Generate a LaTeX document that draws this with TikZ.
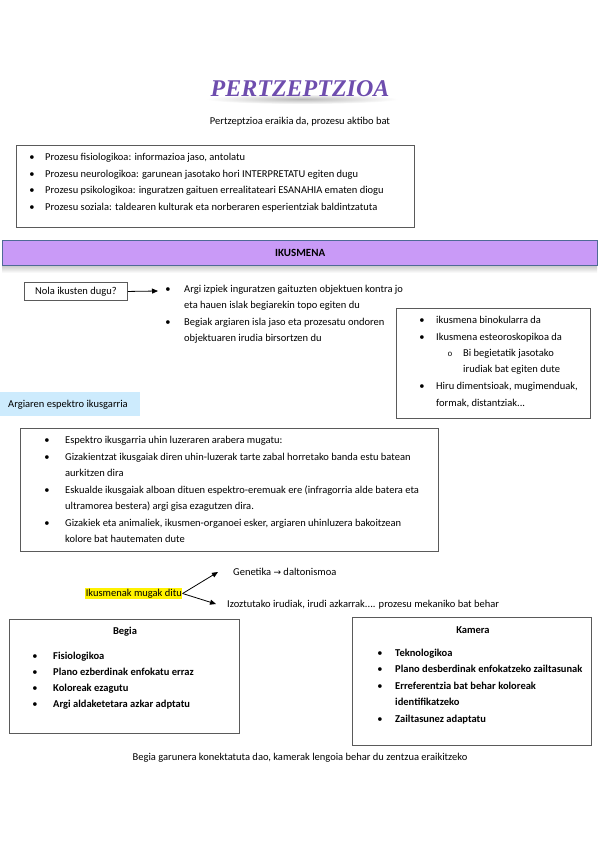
\documentclass[tikz,border=0pt]{standalone}
\usepackage{fontspec}
\setmainfont{Carlito}
\newfontfamily\titlefont{Liberation Serif}
\newfontfamily\symfont{DejaVu Sans}
\newfontfamily\monofont{Liberation Mono}
\usetikzlibrary{arrows.meta}
\definecolor{barfill}{HTML}{C99AF7}
\definecolor{barline}{HTML}{4F6A96}
\definecolor{lblue}{HTML}{CDEBFD}
\definecolor{boxline}{HTML}{5A5A5A}
\definecolor{titlep}{HTML}{6E4DAE}
\newcommand\fs{\fontsize{10.5}{12}\selectfont}
\newcommand\bitem[5]{\node[bul] (#4-b) at (#1,#3) {\textbullet}; \node[txt] (#4) at (#2,#3) {#5};}
\newcommand\titfont{\titlefont\fontsize{24}{24}\selectfont\bfseries\itshape}
\begin{document}
\begin{tikzpicture}[x=1pt,y=-1pt,
  txt/.style={anchor=base west, inner sep=0pt, font=\fs},
  bul/.style={anchor=base, inner sep=0pt, font=\fs},
  box/.style={draw=boxline, line width=0.9pt, anchor=north west, inner sep=0pt},
  arr/.style={-{Triangle[length=6pt,width=5pt]}, line width=0.8pt}
]
\useasboundingbox (0,0) rectangle (599,848);
\fill[white] (0,0) rectangle (599,848);

% title with soft shadow band
\shade[inner color=gray!55, outer color=white] (302,99) ellipse [x radius=96, y radius=5];
\node[font=\titfont, text=titlep, inner sep=0pt] (title) at (300,89) {PERTZEPTZIOA};
\node[anchor=base, inner sep=0pt, font=\fs] (sub) at (300,124.5) {Pertzeptzioa eraikia da, prozesu aktibo bat};

% box 1
\node[box, minimum width=398, minimum height=82] (b1) at (16,145) {};
\bitem{32}{45}{160.5}{p1}{Prozesu fisiologikoa: informazioa jaso, antolatu}
\bitem{32}{45}{177.5}{p2}{Prozesu neurologikoa: garunean jasotako hori INTERPRETATU egiten dugu}
\bitem{32}{45}{193.5}{p3}{Prozesu psikologikoa: inguratzen gaituen errealitateari ESANAHIA ematen diogu}
\bitem{32}{45}{210.5}{p4}{Prozesu soziala: taldearen kulturak eta norberaren esperientziak baldintzatuta}

% IKUSMENA bar
\shade[top color=gray!45, bottom color=white] (2,265) rectangle (597,273);
\node[draw=barline, fill=barfill, line width=1.2pt, minimum width=595, minimum height=25, anchor=north west, inner sep=0pt, font=\fontsize{11}{12}\selectfont\bfseries] (ikus) at (2,240) {IKUSMENA};

% Nola ikusten dugu
\node[box, minimum width=103, minimum height=18, font=\fs] (nola) at (24,282) {Nola ikusten dugu?};
\coordinate (nolaend) at (158,291);
\draw[arr] (nola.east) -- (nolaend);
\bitem{168}{184}{292.5}{m1}{Argi izpiek inguratzen gaituzten objektuen kontra jo}
\node[txt] (m1b) at (184,308.5) {eta hauen islak begiarekin topo egiten du};
\bitem{168}{184}{325.5}{m2}{Begiak argiaren isla jaso eta prozesatu ondoren}
\node[txt] (m2b) at (184,341.5) {objektuaren irudia birsortzen du};

% right box
\node[box, minimum width=194, minimum height=110] (rbox) at (396,308) {};
\bitem{422}{436}{323.5}{r1}{ikusmena binokularra da}
\bitem{422}{436}{340.5}{r2}{Ikusmena esteoroskopikoa da}
\node[bul, font=\monofont\fontsize{8}{8}\selectfont] (r3-b) at (450,356) {o};
\node[txt] (r3) at (463,356.5) {Bi begietatik jasotako};
\node[txt] (r3b) at (463,372.5) {irudiak bat egiten dute};
\bitem{422}{436}{389.5}{r4}{Hiru dimentsioak, mugimenduak,}
\node[txt] (r4b) at (436,406.5) {formak, distantziak...};

% Argiaren espektro ikusgarria
\node[fill=lblue, minimum width=140, minimum height=24, anchor=north west, inner sep=0pt] (argbox) at (0,392) {};
\node[txt] (arg) at (8,407.5) {Argiaren espektro ikusgarria};

% box 3
\node[box, minimum width=418, minimum height=123] (b3) at (20,428) {};
\bitem{47}{65}{443.5}{e1}{Espektro ikusgarria uhin luzeraren arabera mugatu:}
\bitem{47}{65}{460.5}{e2}{Gizakientzat ikusgaiak diren uhin-luzerak tarte zabal horretako banda estu batean}
\node[txt] (e2b) at (65,476.5) {aurkitzen dira};
\bitem{47}{65}{493.5}{e3}{Eskualde ikusgaiak alboan dituen espektro-eremuak ere (infragorria alde batera eta}
\node[txt] (e3b) at (65,509.5) {ultramorea bestera) argi gisa ezagutzen dira.};
\bitem{47}{65}{526.5}{e4}{Gizakiek eta animaliek, ikusmen-organoei esker, argiaren uhinluzera bakoitzean}
\node[txt] (e4b) at (65,542.5) {kolore bat hautematen dute};

% limits
\node[fill=yellow, inner sep=0.6pt, anchor=west, font=\fs] (muga) at (85,593.5) {Ikusmenak mugak ditu};
\node[txt] (gen) at (233,575.5) {Genetika {\symfont\fontsize{9}{9}\selectfont →} daltonismoa};
\node[txt] (izo) at (227,607.5) {Izoztutako irudiak, irudi azkarrak.... prozesu mekaniko bat behar};
\coordinate (g1) at (218,572);
\coordinate (g2) at (216,604);
\draw[arr] (muga.east) -- (g1);
\draw[arr] (muga.east) -- (g2);

% Begia box
\node[box, minimum width=230, minimum height=114] (begia) at (9,619) {};
\node[anchor=base, inner sep=0pt, font=\fs\bfseries] (begiat) at (125,634.5) {Begia};
\bitem{35}{53}{659.5}{ba}{\bfseries Fisiologikoa}
\bitem{35}{53}{675.5}{bb}{\bfseries Plano ezberdinak enfokatu erraz}
\bitem{35}{53}{691.5}{bc}{\bfseries Koloreak ezagutu}
\bitem{35}{53}{707.5}{bd}{\bfseries Argi aldaketetara azkar adptatu}

% Kamera box
\node[box, minimum width=239, minimum height=128] (kamera) at (352,617) {};
\node[anchor=base, inner sep=0pt, font=\fs\bfseries] (kamerat) at (473,633.5) {Kamera};
\bitem{380}{395}{656}{ka}{\bfseries Teknologikoa}
\bitem{380}{395}{672.5}{kb}{\bfseries Plano desberdinak enfokatzeko zailtasunak}
\bitem{380}{395}{689}{kc}{\bfseries Erreferentzia bat behar koloreak}
\node[txt, font=\fs\bfseries] (kcb) at (395,705.5) {identifikatzeko};
\bitem{380}{395}{722}{kd}{\bfseries Zailtasunez adaptatu}

% bottom
\node[anchor=base, inner sep=0pt, font=\fs] (bottom) at (300,760.5) {Begia garunera konektatuta dao, kamerak lengoia behar du zentzua eraikitzeko};
\end{tikzpicture}
\end{document}
